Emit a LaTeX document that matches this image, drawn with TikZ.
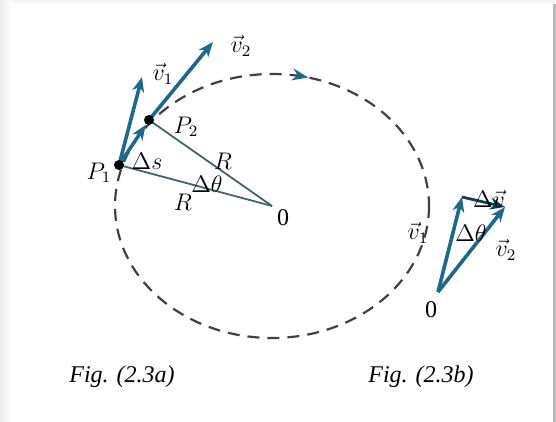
\documentclass[tikz,border=0pt]{standalone}
\usepackage{fontspec}
\setmainfont{Liberation Serif}
\usetikzlibrary{arrows.meta,calc,decorations.markings}
\definecolor{vblue}{RGB}{30,104,140}
\definecolor{slate}{RGB}{70,98,108}

\begin{document}
\begin{tikzpicture}[x=0.5pt,y=-0.5pt,>={Stealth[length=7.5pt,width=6pt]},
 vec/.style={->,vblue,line width=1.8pt},
 rad/.style={slate,line width=0.9pt},
 dot/.style={circle,fill=black,inner sep=0pt,minimum size=5pt},
 lab/.style={inner sep=1pt,font=\large},
 figcap/.style={font=\large\itshape}]
\useasboundingbox (0,0) rectangle (556,422);
% page edge
\shade[left color=gray!15,right color=white] (0,0) rectangle (12,422);
\fill[gray!8] (12,0) rectangle (556,3);
\fill[gray!55] (553,4) rectangle (556,422);
% Fig. (2.3a): path and radii
\coordinate (O) at (272,206);
\coordinate (P1) at (119,165);
\coordinate (P2) at (149,120);
\coordinate (v1) at (142,77);
\coordinate (v2) at (213,42);
\draw[black!75,line width=1.1pt,dash pattern=on 6pt off 4pt,postaction={decorate},
 decoration={markings,mark=at position 0.79 with {\arrow[vblue,solid]{Stealth[length=8pt,width=6pt]}}}]
 (O) ellipse [x radius=157,y radius=132];
\draw[rad] (P1)--(O);
\draw[rad] (P2)--(O);
\draw[vec] (P1)--(v1);
\draw[vec,shorten >=3pt] (P1)--(P2);
\draw[vec] (P2)--(v2);
\node[dot] (p1dot) at (P1) {};
\node[dot] (p2dot) at (P2) {};
\node[lab] (lv1) at (163,74) {$\vec{v}_1$};
\node[lab] (lv2) at (241,46) {$\vec{v}_2$};
\node[lab] (lp1) at (99,173) {$P_1$};
\node[lab] (lp2) at (186,127) {$P_2$};
\node[lab] (lds) at (147,161) {$\Delta s$};
\node[lab] (lr1) at (223,161) {$R$};
\node[lab] (ldt) at (207,184) {$\Delta\theta$};
\node[lab] (lr2) at (183,202) {$R$};
\node[lab] (lo) at (283,218) {0};
% Fig. (2.3b): velocity triangle
\coordinate (Ob) at (438,292);
\coordinate (b1) at (462,197);
\coordinate (b2) at (505,207);
\draw[vec] (Ob)--(b1);
\draw[vec] (Ob)--(b2);
\draw[->,vblue!60!black,line width=1.4pt] (b1)--(b2);
\node[lab] (lob) at (431,310) {0};
\node[lab] (lbv1) at (418,233) {$\vec{v}_1$};
\node[lab] (lbdt) at (471,233) {$\Delta\theta$};
\node[lab] (lbv2) at (506,250) {$\vec{v}_2$};
\node[lab] (lbdv) at (489,199) {$\Delta\vec{v}$};
% captions
\node[figcap] (capa) at (122,377) {Fig. (2.3a)};
\node[figcap] (capb) at (421,377) {Fig. (2.3b)};
\end{tikzpicture}
\end{document}
